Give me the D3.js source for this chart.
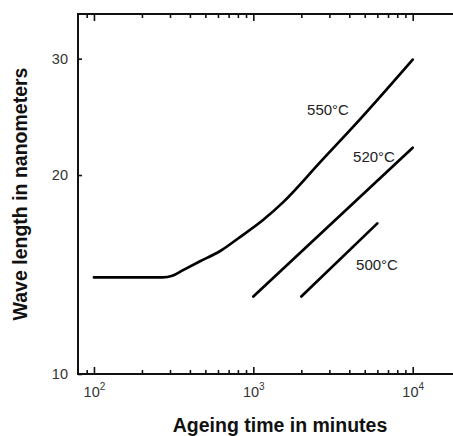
<!DOCTYPE html>
<html>
<head>
<meta charset="utf-8">
<script src="https://cdn.jsdelivr.net/npm/d3@7/dist/d3.min.js"></script>
<style>
html,body{margin:0;padding:0;background:#fff;}
svg{display:block;}
</style>
</head>
<body>
<svg id="chart" width="453" height="436"></svg>
<script>
// ---- data ----
const curve550x = [100, 270, 310, 360, 460, 620, 820, 1150, 1540, 2620, 4680, 10000];
const curve550y = [14, 14, 14.08, 14.35, 14.8, 15.35, 16.1, 17.1, 18.2, 20.9, 24.3, 29.9];
const curve520x = [1000, 10000];
const curve520y = [13.1, 22];
const curve500x = [2000, 6000];
const curve500y = [13.1, 16.9];
const seriesLabels = ["550\u00B0C", "520\u00B0C", "500\u00B0C"];
const xMajorTicks = [100, 1000, 10000];
const xTickExponents = ["2", "3", "4"];
const yTicks = [10, 20, 30];
const xTitle = "Ageing time in minutes";
const yTitle = "Wave length in nanometers";

(function () {
// ---- layout ----
const svg = d3.select("#chart");
const pLeft = 78, pRight = 453, pTop = 14, pBottom = 374;
const x = d3.scaleLog().domain([79.4, 17900]).range([pLeft, pRight]);
const y = d3.scaleLog().domain([10, 35.05]).range([pBottom, pTop]);
const font = "Liberation Sans, Arial, sans-serif";

const xMinor = [];
[10, 100, 1000, 10000].forEach(d => { for (let k = 2; k <= 9; k++) { const v = d * k; if (v > 80 && v < 17900 && !xMajorTicks.includes(v)) xMinor.push(v); } });

const axisColor = "#111";
const g = svg.append("g");

// frame lines
g.append("line").attr("x1", pLeft).attr("x2", pRight).attr("y1", pBottom).attr("y2", pBottom).attr("stroke", axisColor).attr("stroke-width", 2);
g.append("line").attr("x1", pLeft).attr("x2", pRight).attr("y1", pTop).attr("y2", pTop).attr("stroke", axisColor).attr("stroke-width", 2);
g.append("line").attr("x1", pLeft).attr("x2", pLeft).attr("y1", pTop - 1).attr("y2", pBottom + 1).attr("stroke", axisColor).attr("stroke-width", 2);

// x axis ticks (inward)
function tickAxis(gen, ty, vals, size) {
  const a = svg.append("g").attr("transform", `translate(0,${ty})`)
    .call(gen(x).tickValues(vals).tickSize(size).tickFormat(""));
  a.select(".domain").remove();
  a.selectAll(".tick line").attr("stroke", axisColor).attr("stroke-width", 1.6);
  return a;
}
tickAxis(d3.axisBottom, pBottom, xMajorTicks, -7);
tickAxis(d3.axisBottom, pBottom, xMinor, -4);
tickAxis(d3.axisTop, pTop, xMajorTicks, -7);
tickAxis(d3.axisTop, pTop, xMinor, -4);

// x tick labels with superscripts
const xl = svg.append("g");
xMajorTicks.forEach((v, i) => {
  const t = xl.append("text").attr("x", x(v) + 0.5).attr("y", pBottom + 23)
    .attr("text-anchor", "middle").attr("font-family", font)
    .attr("font-size", 14.5).attr("fill", "#333");
  t.append("tspan").text("10");
  t.append("tspan").attr("dy", -7).attr("font-size", 10).text(xTickExponents[i]);
});

// y axis
const ya = svg.append("g").attr("transform", `translate(${pLeft},0)`)
  .call(d3.axisLeft(y).tickValues(yTicks).tickSize(-4).tickPadding(10).tickFormat(d3.format("d")));
ya.select(".domain").remove();
ya.selectAll(".tick line").attr("stroke", axisColor).attr("stroke-width", 1.6);
ya.selectAll(".tick text").attr("font-family", font).attr("font-size", 14.5).attr("fill", "#333");

// curves
const line = d3.line().x(d => x(d[0])).y(d => y(d[1])).curve(d3.curveMonotoneX);
const zip = (a, b) => a.map((v, i) => [v, b[i]]);
[[curve550x, curve550y], [curve520x, curve520y], [curve500x, curve500y]].forEach(([xs, ys]) => {
  svg.append("path").datum(zip(xs, ys)).attr("d", line)
    .attr("fill", "none").attr("stroke", "#000").attr("stroke-width", 2.7).attr("stroke-linecap", "round");
});

// series labels
const labelPos = [[2173, 24.65], [4227, 20.92], [4413, 14.37]];
seriesLabels.forEach((s, i) => {
  svg.append("text").attr("x", x(labelPos[i][0])).attr("y", y(labelPos[i][1]))
    .attr("font-family", font).attr("font-size", 15)
    .attr("fill", "#222").text(s);
});

// axis titles
svg.append("text").attr("x", 280).attr("y", 432).attr("text-anchor", "middle")
  .attr("font-family", font).attr("font-weight", "bold")
  .attr("font-size", 19.5).attr("fill", "#111").text(xTitle);
svg.append("text").attr("transform", `translate(27,194) rotate(-90)`).attr("text-anchor", "middle")
  .attr("font-family", font).attr("font-weight", "bold")
  .attr("font-size", 19.5).attr("fill", "#111").text(yTitle);
})();
</script>
</body>
</html>
